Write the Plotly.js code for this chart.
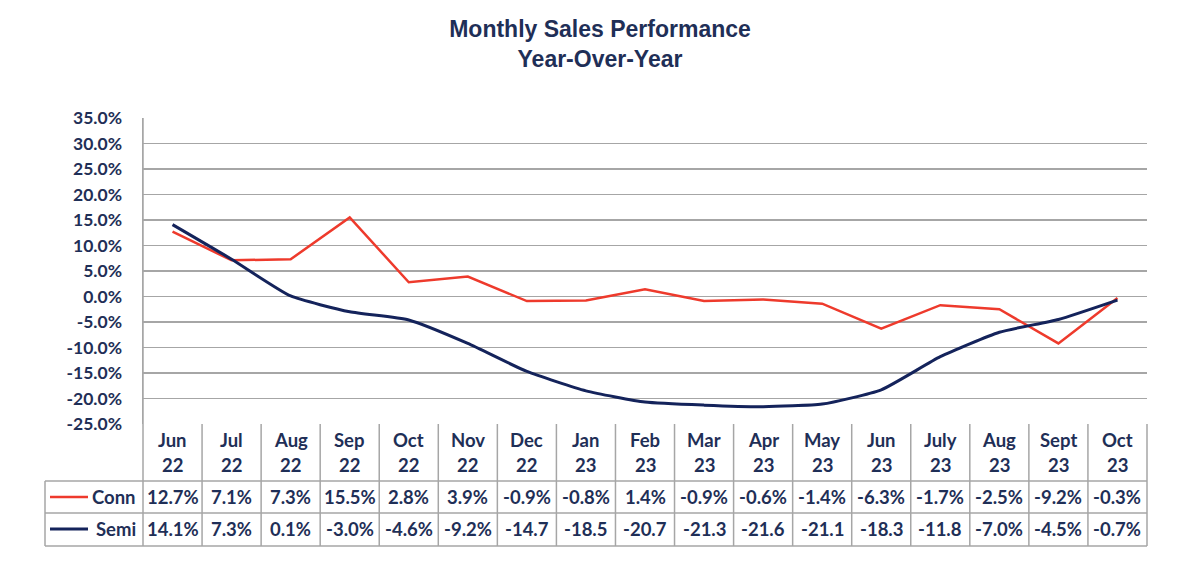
<!DOCTYPE html>
<html><head><meta charset="utf-8">
<script src="https://cdn.plot.ly/plotly-3.0.1.min.js"></script>
<style>html,body{margin:0;padding:0;background:#fff}</style>
</head><body><div id="chart" style="width:1200px;height:577px"></div>
<script>
// ---- data ----
const months = ['Jun','Jul','Aug','Sep','Oct','Nov','Dec','Jan','Feb','Mar','Apr','May','Jun','July','Aug','Sept','Oct'];
const years  = ['22','22','22','22','22','22','22','23','23','23','23','23','23','23','23','23','23'];
const conn = [12.7,7.1,7.3,15.5,2.8,3.9,-0.9,-0.8,1.4,-0.9,-0.6,-1.4,-6.3,-1.7,-2.5,-9.2,-0.3];
const semi = [14.1,7.3,0.1,-3.0,-4.6,-9.2,-14.7,-18.5,-20.7,-21.3,-21.6,-21.1,-18.3,-11.8,-7.0,-4.5,-0.7];
const seriesNames = ['Conn','Semi'];
const yTicks = [-25,-20,-15,-10,-5,0,5,10,15,20,25,30,35];

// ---- style ----
const NAVY_TXT = '#1F2F57';
const RED = '#EE3A2C';
const NAVY = '#14235B';
const GRID = '#A6A6A6';
const FONT = 'Lato, "Open Sans", sans-serif';
const W = 1200, H = 577;
const ML = 143, MR = 53, MT = 118, MB = 153;
const PH = H - MT - MB, PW = W - ML - MR;
const py = p => (H - MB - p) / PH;   // pixel row -> paper y
const px = p => (p - ML) / PW;       // pixel col -> paper x

const cats = months.map((m, i) => m + ' ' + years[i]);
const fmt = v => v.toFixed(1) + (v <= -10 ? '' : '%');

const traces = [
  {x: cats, y: conn, name: seriesNames[0], type: 'scatter', mode: 'lines',
   line: {color: RED, width: 2.5}, cliponaxis: false},
  {x: cats, y: semi, name: seriesNames[1], type: 'scatter', mode: 'lines',
   line: {color: NAVY, width: 3, shape: 'spline', smoothing: 0.5}, cliponaxis: false}
];

const rowHdr = [py(440), py(465)];
const rowY = [py(497), py(529)];
const lines = [py(481), py(513), py(546)];

const shapes = [];
const lineStyle = {color: GRID, width: 1.5};
for (let i = 1; i < cats.length; i++) {
  shapes.push({type: 'line', xref: 'x', yref: 'paper', x0: i - 0.5, x1: i - 0.5, y0: lines[2], y1: 0, line: lineStyle});
}
shapes.push({type: 'line', xref: 'paper', yref: 'paper', x0: 0, x1: 0, y0: lines[2], y1: 1, line: lineStyle});
shapes.push({type: 'line', xref: 'paper', yref: 'paper', x0: 1, x1: 1, y0: lines[2], y1: 0, line: lineStyle});
shapes.push({type: 'line', xref: 'paper', yref: 'paper', x0: px(45), x1: px(45), y0: lines[2], y1: lines[0], line: lineStyle});
lines.forEach(yv => shapes.push({type: 'line', xref: 'paper', yref: 'paper', x0: px(45), x1: 1, y0: yv, y1: yv, line: lineStyle}));
const keyColors = [RED, NAVY];
rowY.forEach((yv, k) => shapes.push({type: 'line', xref: 'paper', yref: 'paper', x0: px(50), x1: px(88), y0: yv, y1: yv, line: {color: keyColors[k], width: k ? 3 : 2.5}}));

const annFont = {family: FONT, size: 18.5, color: NAVY_TXT, weight: 'bold'};
const annotations = [];
cats.forEach((c, i) => {
  annotations.push({x: c, xref: 'x', y: rowHdr[0], yref: 'paper', text: months[i], showarrow: false, font: annFont, yanchor: 'middle'});
  annotations.push({x: c, xref: 'x', y: rowHdr[1], yref: 'paper', text: years[i], showarrow: false, font: annFont, yanchor: 'middle'});
  annotations.push({x: c, xref: 'x', y: rowY[0], yref: 'paper', text: fmt(conn[i]), showarrow: false, font: annFont, yanchor: 'middle'});
  annotations.push({x: c, xref: 'x', y: rowY[1], yref: 'paper', text: fmt(semi[i]), showarrow: false, font: annFont, yanchor: 'middle'});
});
seriesNames.forEach((n, k) => annotations.push({x: px(138), xref: 'paper', y: rowY[k], yref: 'paper', text: n, showarrow: false, font: annFont, xanchor: 'right', yanchor: 'middle'}));

const layout = {
  width: W, height: H,
  margin: {l: ML, r: MR, t: MT, b: MB, pad: 0},
  paper_bgcolor: '#fff', plot_bgcolor: '#fff',
  showlegend: false,
  title: {text: 'Monthly Sales Performance<br>Year-Over-Year', x: 0.5, xref: 'container', xanchor: 'center',
          y: 1 - 37 / H, yref: 'container', yanchor: 'middle',
          font: {family: 'Liberation Sans, Arial, sans-serif', size: 23, color: NAVY_TXT, weight: 'bold'}},
  xaxis: {type: 'category', range: [-0.5, cats.length - 0.5], showticklabels: false, showgrid: false,
          zeroline: false, showline: false, ticks: '', fixedrange: true},
  yaxis: {range: [-25, 35], tickvals: yTicks, ticktext: yTicks.map(v => v.toFixed(1) + '%'),
          showgrid: true, gridcolor: GRID, gridwidth: 1.5, zeroline: false,
          showline: true, linecolor: GRID, linewidth: 1.5, ticks: '', ticklabelstandoff: 16,
          tickfont: {family: FONT, size: 17.5, color: NAVY_TXT, weight: 'bold'}, fixedrange: true},
  shapes: shapes,
  annotations: annotations
};

Plotly.newPlot('chart', traces, layout, {displayModeBar: false, staticPlot: true});
</script></body></html>
